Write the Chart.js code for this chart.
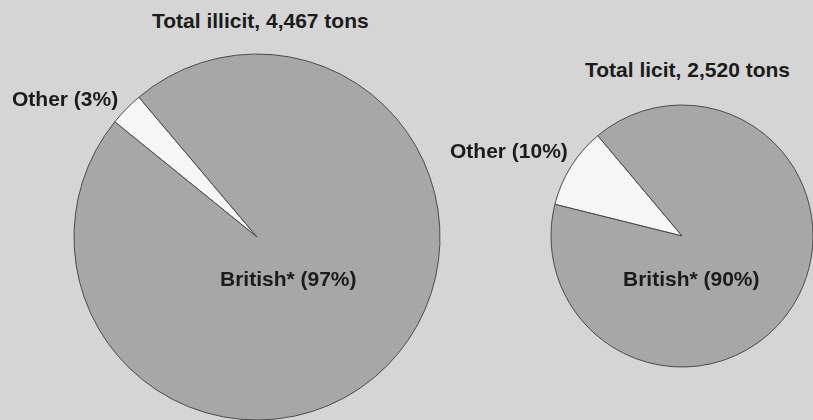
<!DOCTYPE html>
<html>
<head>
<meta charset="utf-8">
<script src="https://cdn.jsdelivr.net/npm/chart.js@4"></script>
<style>
  body {
    margin: 0;
    width: 813px;
    height: 420px;
    overflow: hidden;
    background: #d5d5d5;
    position: relative;
    font-family: "Liberation Sans", Arial, sans-serif;
  }
  canvas {
    position: absolute;
  }
  .label {
    position: absolute;
    font-size: 21px;
    line-height: 21px;
    font-weight: bold;
    color: #1b1b1b;
    white-space: nowrap;
  }
</style>
</head>
<body>
<canvas id="illicit-chart" width="370" height="370" style="left:72px;top:52px"></canvas>
<canvas id="licit-chart" width="266" height="266" style="left:549px;top:103px"></canvas>

<div class="label" style="left:152px;top:10px">Total illicit, 4,467 tons</div>
<div class="label" style="left:12px;top:88px">Other (3%)</div>
<div class="label" style="left:220px;top:268px">British* (97%)</div>

<div class="label" style="left:585px;top:59px">Total licit, 2,520 tons</div>
<div class="label" style="left:450px;top:140px">Other (10%)</div>
<div class="label" style="left:623px;top:268px">British* (90%)</div>

<script>
// Datos

let categories = ["Other", "British*"];
let illicitShares = [3, 97];
let licitShares = [10, 90];

// Grafico de torta

function pieChart(chartID, shares, radius, rotation) {
  let ctx = document.getElementById(`${chartID}-chart`).getContext("2d");
  return new Chart(ctx, {
    type: "pie",
    data: {
      labels: categories,
      datasets: [
        {
          data: shares,
          backgroundColor: ["#f6f6f6", "#a7a7a7"],
          borderColor: "#4a4a4a",
          borderWidth: 1,
        },
      ],
    },
    options: {
      responsive: false,
      animation: false,
      radius: radius,
      rotation: rotation,
      layout: { padding: 0 },
      plugins: {
        legend: { display: false },
        tooltip: { enabled: false },
      },
    },
  });
}

pieChart("illicit", illicitShares, 183, 309);
pieChart("licit", licitShares, 131, 284);
</script>
</body>
</html>
